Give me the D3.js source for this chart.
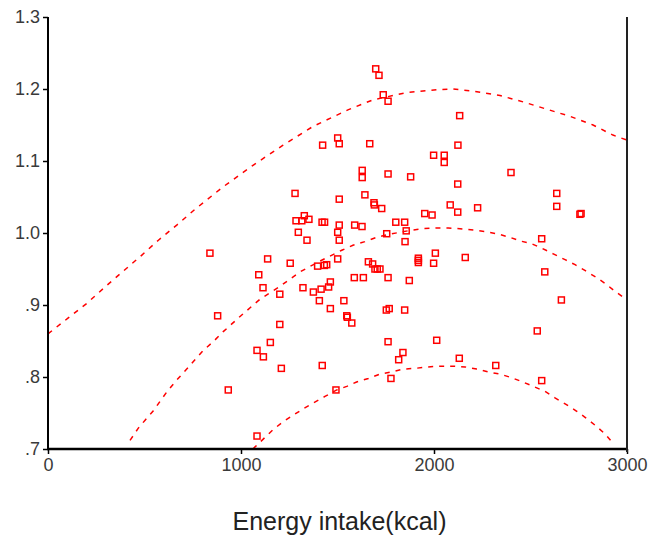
<!DOCTYPE html>
<html>
<head>
<meta charset="utf-8">
<script src="https://cdn.jsdelivr.net/npm/d3@7"></script>
<style>
  html, body { margin: 0; padding: 0; background: #fff; }
  svg { display: block; }
</style>
</head>
<body>
<svg id="chart" width="650" height="535"></svg>
<script>
// ---- data ----
const energyKcal = [839,879,934,1083,1083,1092,1116,1114,1138,1152,1201,1201,1209,1255,1280,1285,1297,1315,1328,1321,1342,1352,1375,1397,1406,1415,1421,1423,1420,1433,1432,1444,1454,1463,1463,1492,1501,1501,1501,1509,1509,1509,1509,1533,1548,1551,1574,1589,1587,1627,1628,1628,1634,1642,1667,1660,1682,1689,1691,1694,1706,1720,1729,1698,1715,1737,1762,1762,1755,1762,1753,1768,1762,1777,1802,1817,1839,1850,1848,1856,1848,1872,1879,1919,1919,1919,1952,1990,1998,1998,2007,2014,2053,2053,2084,2123,2124,2123,2133,2131,2162,2226,2320,2399,2535,2558,2558,2574,2636,2636,2660,2756,2762];
const ratioValue = [0.972,0.885,0.782,0.718,0.837,0.942,0.828,0.924,0.964,0.848,0.873,0.915,0.812,0.958,1.055,1.017,1.001,1.017,1.024,0.924,0.990,1.019,0.918,0.954,0.906,0.922,0.816,1.122,1.015,1.015,0.955,0.956,0.925,0.932,0.895,0.782,1.001,0.964,1.132,1.124,1.047,0.990,1.011,0.906,0.885,0.883,0.875,1.011,0.938,1.009,1.087,1.077,0.938,1.053,1.124,0.960,0.957,1.042,1.039,0.950,0.950,0.950,1.034,1.228,1.219,1.192,1.183,1.082,0.999,0.938,0.893,0.895,0.849,0.798,1.015,0.824,0.834,0.988,1.015,1.003,0.893,0.934,1.078,0.965,0.962,0.959,1.027,1.025,1.108,0.958,0.972,0.851,1.108,1.098,1.039,1.029,1.122,1.068,1.163,0.826,0.966,1.035,0.816,1.084,0.864,0.992,0.795,0.946,1.055,1.037,0.907,1.026,1.027];

// upper dashed curve
const upperX = [0,105,200,295,390,485,572,667,762,907,1062,1218,1373,1554,1684,1859,2014,2098,2202,2342,2463,2584,2705,2824,2927,3000];
const upperY = [0.860,0.882,0.902,0.925,0.947,0.969,0.990,1.011,1.033,1.064,1.094,1.122,1.148,1.171,1.185,1.195,1.199,1.200,1.197,1.191,1.182,1.172,1.162,1.150,1.136,1.129];
// middle dashed curve
const middleX = [425,468,503,546,580,615,658,745,805,856,908,995,1098,1202,1306,1409,1522,1580,1642,1703,1763,1824,1884,1945,2014,2074,2135,2204,2264,2325,2394,2446,2506,2558,2618,2679,2731,2782,2843,2886,2938,2990,3000];
const middleY = [0.712,0.729,0.740,0.753,0.766,0.779,0.793,0.819,0.837,0.849,0.863,0.884,0.908,0.926,0.946,0.961,0.976,0.983,0.988,0.994,0.998,1.001,1.004,1.006,1.007,1.007,1.006,1.004,1.002,0.999,0.994,0.989,0.985,0.979,0.971,0.963,0.956,0.948,0.938,0.930,0.919,0.909,0.907];
// lower dashed curve
const lowerX = [1062,1073,1124,1167,1219,1271,1323,1375,1435,1496,1548,1599,1660,1720,1781,1841,1902,1970,2031,2100,2161,2221,2281,2342,2403,2460,2515,2575,2627,2684,2736,2788,2839,2886,2921];
const lowerY = [0.700,0.703,0.716,0.727,0.738,0.747,0.756,0.764,0.773,0.782,0.787,0.793,0.798,0.804,0.807,0.811,0.812,0.814,0.815,0.815,0.814,0.811,0.807,0.804,0.799,0.793,0.787,0.780,0.771,0.762,0.753,0.743,0.732,0.721,0.710];

const xTickValues = [0,1000,2000,3000];
const xTickLabels = ["0","1000","2000","3000"];
const yTickValues = [0.7,0.8,0.9,1.0,1.1,1.2,1.3];
const yTickLabels = [".7",".8",".9","1.0","1.1","1.2","1.3"];
const xTitle = "Energy intake(kcal)";

// ---- drawing ----
(function () {
const svg = d3.select("#chart");
const mLeft = 48, mRight = 627, mTop = 17, mBottom = 449;
const x = d3.scaleLinear().domain([0,3000]).range([mLeft,mRight]);
const y = d3.scaleLinear().domain([0.7,1.3]).range([mBottom,mTop]);
const red = "#ff0000";
const font = "'Liberation Sans', Arial, sans-serif";

// curves
const line = d3.line().x(d => x(d[0])).y(d => y(d[1]));
[[upperX,upperY],[middleX,middleY],[lowerX,lowerY]].forEach(([xs,ys]) => {
  svg.append("path")
    .datum(xs.map((v,i) => [v, ys[i]]))
    .attr("d", line)
    .attr("fill","none")
    .attr("stroke", red)
    .attr("stroke-width", 1.5)
    .attr("stroke-dasharray","5,6");
});

// points
svg.append("g").selectAll("rect")
  .data(energyKcal.map((v,i) => [v, ratioValue[i]]))
  .join("rect")
  .attr("x", d => x(d[0]) - 3)
  .attr("y", d => y(d[1]) - 3)
  .attr("width", 6)
  .attr("height", 6)
  .attr("fill","none")
  .attr("stroke", red)
  .attr("stroke-width", 1.5);

// axes
const yAxis = d3.axisLeft(y).tickValues(yTickValues)
  .tickFormat((d,i) => yTickLabels[i]).tickSize(5).tickPadding(3);
const gy = svg.append("g").attr("transform",`translate(${mLeft},0)`).call(yAxis);
const xAxis = d3.axisBottom(x).tickValues(xTickValues)
  .tickFormat((d,i) => xTickLabels[i]).tickSize(5).tickPadding(4);
const gx = svg.append("g").attr("transform",`translate(0,${mBottom})`).call(xAxis);

[gx, gy].forEach(g => {
  g.select(".domain").remove();
  g.selectAll(".tick line").attr("stroke","#000").attr("stroke-width",1.5);
  g.selectAll(".tick text").attr("fill","#3a3a3a").style("font-family",font).style("font-size","18px");
});

// frame lines (left, bottom, right)
svg.append("line").attr("x1",mLeft).attr("x2",mLeft).attr("y1",mTop).attr("y2",mBottom+1)
  .attr("stroke","#000").attr("stroke-width",2);
svg.append("line").attr("x1",mLeft-1).attr("x2",mRight+1).attr("y1",mBottom).attr("y2",mBottom)
  .attr("stroke","#000").attr("stroke-width",2.5);
svg.append("line").attr("x1",mRight).attr("x2",mRight).attr("y1",mTop).attr("y2",mBottom+3)
  .attr("stroke","#222").attr("stroke-width",2);

// axis title
svg.append("text")
  .attr("x", (mLeft+mRight)/2 + 2)
  .attr("y", 530)
  .attr("text-anchor","middle")
  .attr("fill","#222")
  .style("font-family",font)
  .style("font-size","25px")
  .text(xTitle);
})();
</script>
</body>
</html>
